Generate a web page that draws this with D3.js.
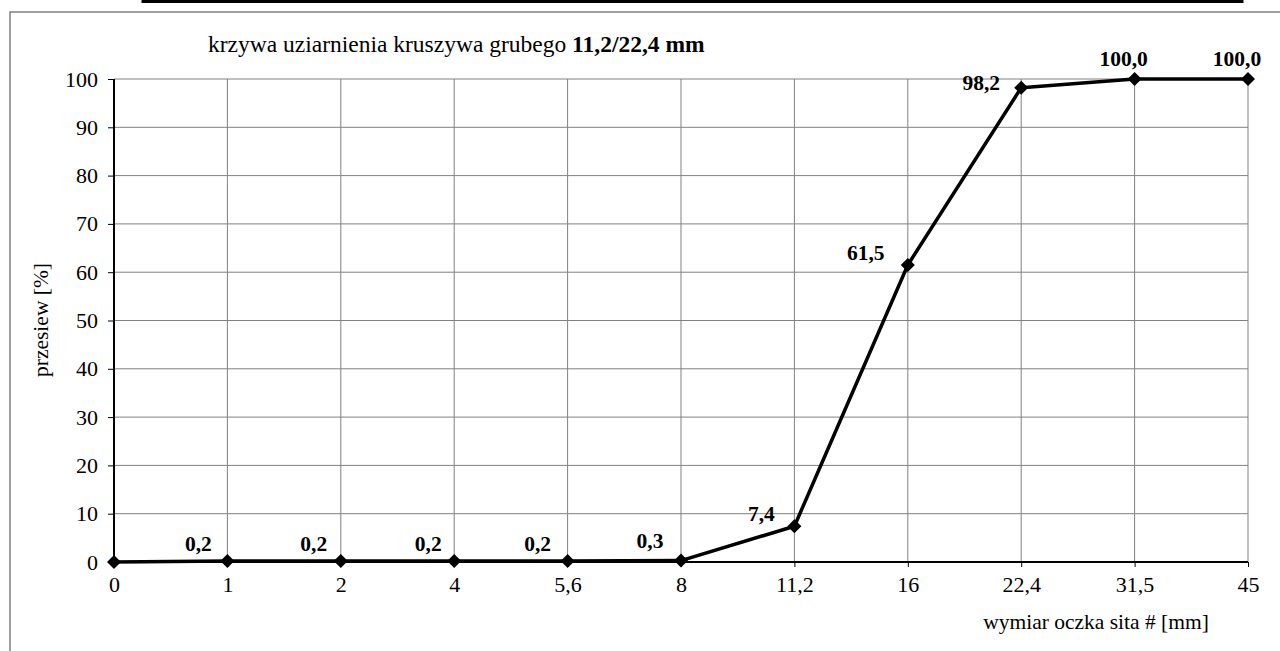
<!DOCTYPE html>
<html>
<head>
<meta charset="utf-8">
<script src="https://cdn.jsdelivr.net/npm/d3@7"></script>
<style>
  body { margin: 0; background: #fff; }
  svg { display: block; font-family: "Liberation Serif", "Times New Roman", serif; }
</style>
</head>
<body>
<div id="chart"></div>
<script>
// data
var sieves = ["0", "1", "2", "4", "5,6", "8", "11,2", "16", "22,4", "31,5", "45"];
var passing = [0, 0.2, 0.2, 0.2, 0.2, 0.3, 7.4, 61.5, 98.2, 100, 100];
var pointLabels = ["", "0,2", "0,2", "0,2", "0,2", "0,3", "7,4", "61,5", "98,2", "100,0", "100,0"];
var yTicks = [0, 10, 20, 30, 40, 50, 60, 70, 80, 90, 100];

// label nudges (layout only), dx/dy of label centre from its point
var labelNudge = [[0,0],[-29,-18],[-27,-18],[-26,-18],[-30,-18],[-31,-20],[-33,-13],[-42,-12],[-40,-5],[-11,-21],[-11,-21]];

var W = 1280, H = 651;
var margin = {top: 79, right: 32, bottom: 89, left: 114},
    width = W - margin.left - margin.right,
    height = H - margin.top - margin.bottom;

var svg = d3.select("#chart").append("svg")
    .attr("width", W)
    .attr("height", H);

// box cut off at the top of the page
svg.append("rect")
  .attr("x", 143).attr("y", -20)
  .attr("width", 1099).attr("height", 21.5)
  .attr("fill", "none").attr("stroke", "#000").attr("stroke-width", 3);

// outer chart frame
svg.append("rect")
  .attr("x", 10).attr("y", 12)
  .attr("width", 1300).attr("height", 700)
  .attr("fill", "none").attr("stroke", "#808080").attr("stroke-width", 1.5);

var g = svg.append("g")
  .attr("transform", "translate(" + margin.left + "," + margin.top + ")");

var x = d3.scalePoint()
  .domain(sieves)
  .range([0, width]);

var y = d3.scaleLinear()
  .domain([0, 100])
  .range([height, 0]);

// grid
g.append("g").selectAll("line.hg")
  .data(yTicks.slice(1))
  .enter().append("line")
    .attr("x1", 0).attr("x2", width)
    .attr("y1", function(d) { return y(d); })
    .attr("y2", function(d) { return y(d); })
    .attr("stroke", "#808080").attr("stroke-width", 1);

g.append("g").selectAll("line.vg")
  .data(sieves.slice(1))
  .enter().append("line")
    .attr("x1", function(d) { return x(d); })
    .attr("x2", function(d) { return x(d); })
    .attr("y1", 0).attr("y2", height)
    .attr("stroke", "#808080").attr("stroke-width", 1);

// axes
var xAxis = g.append("g")
  .attr("transform", "translate(0," + height + ")")
  .call(d3.axisBottom(x).tickSize(5).tickPadding(9));
var yAxis = g.append("g")
  .call(d3.axisLeft(y).tickValues(yTicks).tickSize(6).tickPadding(10));

[xAxis, yAxis].forEach(function(a) {
  a.select(".domain").attr("stroke", "#000").attr("stroke-width", 2);
  a.selectAll(".tick line").attr("stroke", "#000").attr("stroke-width", 1);
  a.selectAll("text")
    .attr("fill", "#000")
    .style("font-family", "Liberation Serif")
    .style("font-size", "22px");
});
xAxis.select(".domain").attr("d", "M0,0H" + width);
yAxis.select(".domain").attr("d", "M0," + height + "V0");

// line
var line = d3.line()
  .x(function(d, i) { return x(sieves[i]); })
  .y(function(d) { return y(d); });

g.append("path")
  .datum(passing)
  .attr("d", line)
  .attr("fill", "none")
  .attr("stroke", "#000")
  .attr("stroke-width", 3.5)
  .attr("stroke-linejoin", "round");

// diamond markers
g.selectAll("path.mk")
  .data(passing)
  .enter().append("path")
    .attr("d", d3.symbol().type(d3.symbolDiamond2).size(125))
    .attr("transform", function(d, i) { return "translate(" + x(sieves[i]) + "," + y(d) + ")"; })
    .attr("fill", "#000");

// value labels
g.selectAll("text.lbl")
  .data(passing)
  .enter().append("text")
    .attr("x", function(d, i) { return x(sieves[i]) + labelNudge[i][0]; })
    .attr("y", function(d, i) { return y(d) + labelNudge[i][1]; })
    .attr("text-anchor", "middle")
    .attr("dy", "0.35em")
    .style("font-size", "21.5px")
    .style("font-weight", "bold")
    .text(function(d, i) { return pointLabels[i]; });

// title
var title = svg.append("text")
  .attr("x", 208).attr("y", 52)
  .style("font-size", "23.5px");
title.append("tspan").text("krzywa uziarnienia kruszywa grubego ");
title.append("tspan").style("font-weight", "bold").text("11,2/22,4 mm");

// axis titles
svg.append("text")
  .attr("transform", "translate(48,320) rotate(-90)")
  .attr("text-anchor", "middle")
  .style("font-size", "21.5px")
  .text("przesiew [%]");

svg.append("text")
  .attr("x", 1096).attr("y", 629)
  .attr("text-anchor", "middle")
  .style("font-size", "21.5px")
  .text("wymiar oczka sita # [mm]");
</script>
</body>
</html>
